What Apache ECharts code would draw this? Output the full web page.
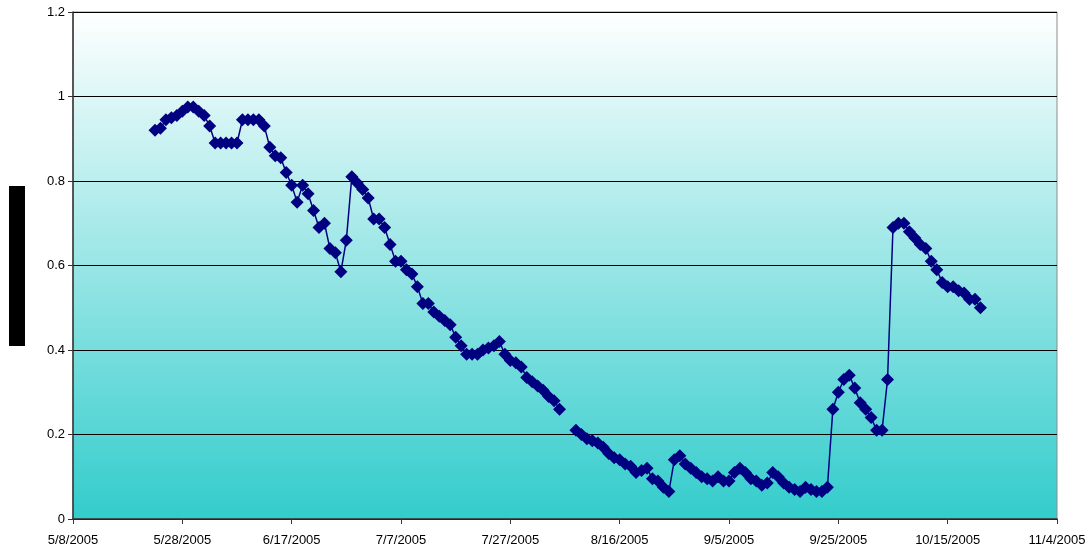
<!DOCTYPE html>
<html>
<head>
<meta charset="utf-8">
<script src="https://cdn.jsdelivr.net/npm/echarts@6/dist/echarts.min.js"></script>
<style>
  html, body { margin: 0; padding: 0; background: #fff; }
  #chart { width: 1091px; height: 550px; }
</style>
</head>
<body>
<div id="chart"></div>
<script>
// Axis origin and first observed day
const axisStart = "2005-05-08";
const axisEnd = "2005-11-04";
const firstDay = "2005-05-23";

// Daily values (null = no reading that day)
const values = [
  // 5/23 - 6/27
  0.92, 0.925, 0.945, 0.95, 0.955, 0.965, 0.975, 0.975, 0.965, 0.955,
  0.93, 0.89, 0.89, 0.89, 0.89, 0.89, 0.945, 0.945, 0.945, 0.945,
  0.93, 0.88, 0.86, 0.855, 0.82, 0.79, 0.75, 0.79, 0.77, 0.73,
  0.69, 0.70, 0.64, 0.63, 0.585, 0.66,
  // 6/28 - 8/5
  0.81, 0.795, 0.78, 0.76, 0.71, 0.71, 0.69, 0.65, 0.61, 0.61,
  0.59, 0.58, 0.55, 0.51, 0.51, 0.49, 0.48, 0.47, 0.46, 0.43,
  0.41, 0.39, 0.39, 0.39, 0.40, 0.405, 0.41, 0.42, 0.39, 0.375,
  0.37, 0.36, 0.335, 0.325, 0.315, 0.305, 0.29, 0.28, 0.26,
  // gap
  null, null,
  // 8/8 - 8/25
  0.21, 0.20, 0.19, 0.185, 0.18, 0.17, 0.155, 0.145, 0.14, 0.13,
  0.125, 0.11, 0.115, 0.12, 0.095, 0.09, 0.075, 0.065,
  // 8/26 - 9/23
  0.14, 0.15, 0.13, 0.12, 0.11, 0.10, 0.095, 0.09, 0.10, 0.09,
  0.09, 0.11, 0.12, 0.11, 0.095, 0.09, 0.08, 0.085, 0.11, 0.10,
  0.085, 0.075, 0.07, 0.065, 0.075, 0.07, 0.065, 0.065, 0.075,
  // 9/24 - 10/21
  0.26, 0.30, 0.33, 0.34, 0.31, 0.275, 0.26, 0.24, 0.21, 0.21,
  0.33, 0.69, 0.70, 0.70, 0.68, 0.665, 0.65, 0.64, 0.61, 0.59,
  0.56, 0.55, 0.55, 0.54, 0.535, 0.52, 0.52, 0.50,
];

const yTicks = [0, 0.2, 0.4, 0.6, 0.8, 1, 1.2];

const DAY = 86400000;
const t0 = Date.parse(axisStart + "T00:00:00Z");
const dayOf = (s) => Math.round((Date.parse(s + "T00:00:00Z") - t0) / DAY);
const startOffset = dayOf(firstDay);

const seriesData = values.map((v, i) => [startOffset + i, v]);

function formatDay(offset) {
  const d = new Date(t0 + offset * DAY);
  return `${d.getUTCMonth() + 1}/${d.getUTCDate()}/${d.getUTCFullYear()}`;
}

const font = "'Liberation Sans', Arial, sans-serif";

const chart = echarts.init(document.getElementById("chart"), null, { renderer: "canvas" });

chart.setOption({
  animation: false,
  backgroundColor: "#ffffff",
  grid: {
    left: 73,
    right: 34,
    top: 12,
    bottom: 31,
    show: true,
    borderColor: "#8c8c8c",
    borderWidth: 1,
    backgroundColor: new echarts.graphic.LinearGradient(0, 0, 0, 1, [
      { offset: 0, color: "#ffffff" },
      { offset: 1, color: "#33cccc" },
    ]),
  },
  xAxis: {
    type: "value",
    min: 0,
    max: dayOf(axisEnd),
    interval: 20,
    splitLine: { show: false },
    axisLine: { lineStyle: { color: "#333333", width: 1.5 } },
    axisTick: { show: true, length: 5, lineStyle: { color: "#333333" } },
    axisLabel: {
      formatter: (v) => formatDay(v),
      color: "#000",
      fontFamily: font,
      fontSize: 13,
      margin: 15,
    },
  },
  yAxis: {
    type: "value",
    min: yTicks[0],
    max: yTicks[yTicks.length - 1],
    interval: 0.2,
    splitLine: { show: true, lineStyle: { color: "#000000", width: 1 } },
    axisLine: { show: true, lineStyle: { color: "#333333", width: 1.5 } },
    axisTick: { show: true, length: 5, lineStyle: { color: "#333333" } },
    axisLabel: {
      formatter: (v) => String(+v.toFixed(1)),
      color: "#000",
      fontFamily: font,
      fontSize: 13,
      margin: 8,
    },
  },
  series: [
    {
      type: "line",
      data: seriesData,
      connectNulls: false,
      symbol: "diamond",
      symbolSize: 13,
      showAllSymbol: true,
      lineStyle: { color: "#000080", width: 1.5 },
      itemStyle: { color: "#000080", borderWidth: 0 },
      z: 5,
    },
  ],
  graphic: [
    {
      type: "rect",
      left: 9,
      top: 186,
      shape: { width: 16, height: 160 },
      style: { fill: "#000000" },
    },
  ],
});
</script>
</body>
</html>
